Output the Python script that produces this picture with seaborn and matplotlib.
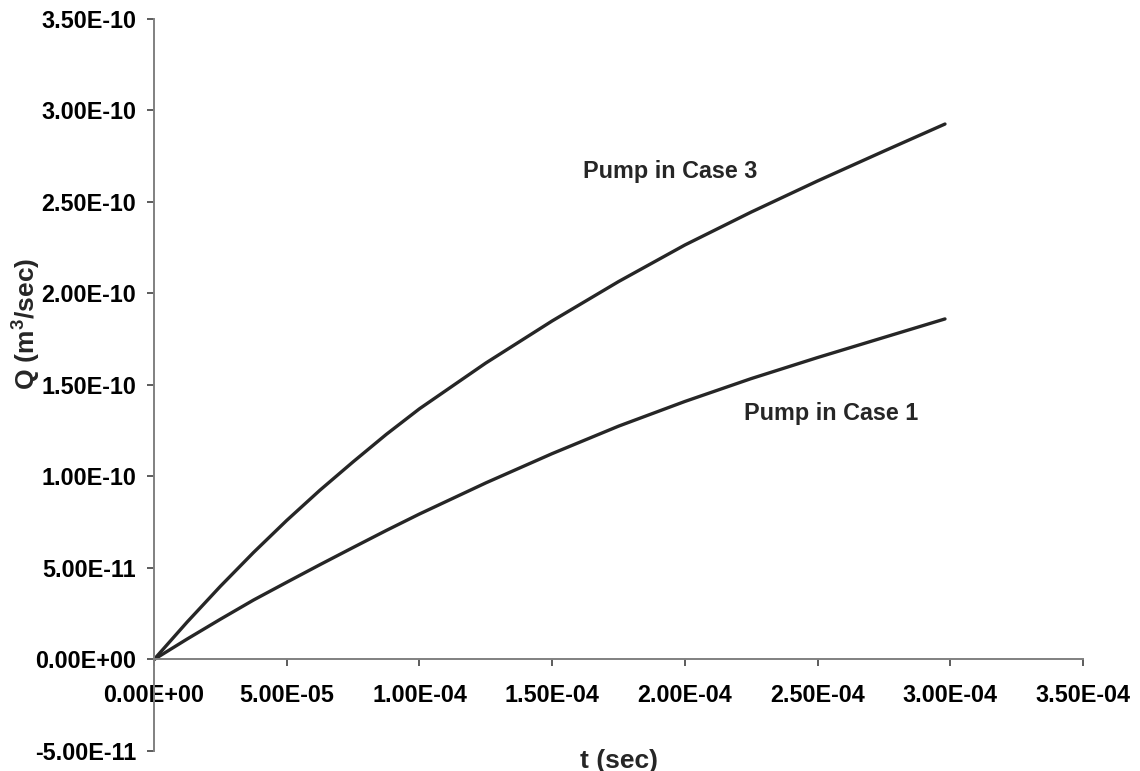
import matplotlib
matplotlib.use("Agg")
import matplotlib.pyplot as plt
from matplotlib.ticker import FuncFormatter, MultipleLocator
import seaborn as sns
import pandas as pd

# time samples (s)
t_sec = [0.0, 1.25e-5, 2.5e-5, 3.75e-5, 5.0e-5, 6.25e-5, 7.5e-5, 8.75e-5, 1.0e-4,
         1.25e-4, 1.5e-4, 1.75e-4, 2.0e-4, 2.25e-4, 2.5e-4, 2.75e-4, 2.98e-4]
# flow rate (m^3/s)
q_case3 = [0.0, 2.05e-11, 4.0e-11, 5.85e-11, 7.6e-11, 9.25e-11, 1.08e-10, 1.23e-10,
           1.37e-10, 1.62e-10, 1.85e-10, 2.065e-10, 2.265e-10, 2.445e-10, 2.615e-10,
           2.778e-10, 2.926e-10]
q_case1 = [0.0, 1.12e-11, 2.2e-11, 3.25e-11, 4.22e-11, 5.18e-11, 6.12e-11, 7.05e-11,
           7.95e-11, 9.65e-11, 1.125e-10, 1.275e-10, 1.41e-10, 1.535e-10, 1.65e-10,
           1.76e-10, 1.861e-10]
series_names = ["Pump in Case 3", "Pump in Case 1"]

df = pd.concat([
    pd.DataFrame({"t": t_sec, "Q": q_case3, "case": series_names[0]}),
    pd.DataFrame({"t": t_sec, "Q": q_case1, "case": series_names[1]}),
])

sns.set_theme(style="white")
plt.rcParams["font.family"] = ["Liberation Sans", "DejaVu Sans"]
plt.rcParams["font.weight"] = "bold"
plt.rcParams["mathtext.fontset"] = "custom"
plt.rcParams["mathtext.rm"] = "Liberation Sans:bold"
plt.rcParams["mathtext.bf"] = "Liberation Sans:bold"

fig = plt.figure(figsize=(11.4, 7.71), dpi=100)
ax = fig.add_axes([0.1351, 0.02594, 0.95 - 0.1351, 0.97536 - 0.02594])

sns.lineplot(data=df, x="t", y="Q", hue="case", palette=["#262626", "#262626"],
             linewidth=2.4, legend=False, ax=ax, sort=False)

ax.set_xlim(0, 3.5e-4)
ax.set_ylim(-5e-11, 3.5e-10)
ax.xaxis.set_major_locator(MultipleLocator(5e-5))
ax.yaxis.set_major_locator(MultipleLocator(5e-11))
fmt = FuncFormatter(lambda v, p: "{:.2E}".format(0.0 if abs(v) < 1e-20 else v))
ax.xaxis.set_major_formatter(fmt)
ax.yaxis.set_major_formatter(fmt)

for s in ["top", "right"]:
    ax.spines[s].set_visible(False)
ax.spines["bottom"].set_position(("data", 0))
ax.spines["left"].set_position(("data", 0))
for s in ["bottom", "left"]:
    ax.spines[s].set_color("#808080")
    ax.spines[s].set_linewidth(1.4)

ax.tick_params(axis="both", which="major", direction="out", length=5,
               width=1.1, color="#303030", labelsize=16.8, labelcolor="black")
ax.tick_params(axis="x", pad=13, bottom=True)
ax.tick_params(axis="y", pad=8, left=True)
for lab in ax.get_xticklabels() + ax.get_yticklabels():
    lab.set_fontweight("bold")

ax.set_xlabel("t (sec)", fontsize=19, fontweight="bold")
ax.set_ylabel("Q (m$^{3}$/sec)", fontsize=19, fontweight="bold")
ax.xaxis.set_label_coords(618.5 / 1140, 1 - 749 / 771, transform=fig.transFigure)
ax.yaxis.set_label_coords(42 / 1140, 1 - 324 / 771, transform=fig.transFigure)

ax.text(1.944e-4, 2.664e-10, series_names[0], fontsize=16.8, fontweight="bold",
        ha="center", va="center")
ax.text(2.551e-4, 1.342e-10, series_names[1], fontsize=16.8, fontweight="bold",
        ha="center", va="center")

fig.savefig("out.png", dpi=100, facecolor="white")
